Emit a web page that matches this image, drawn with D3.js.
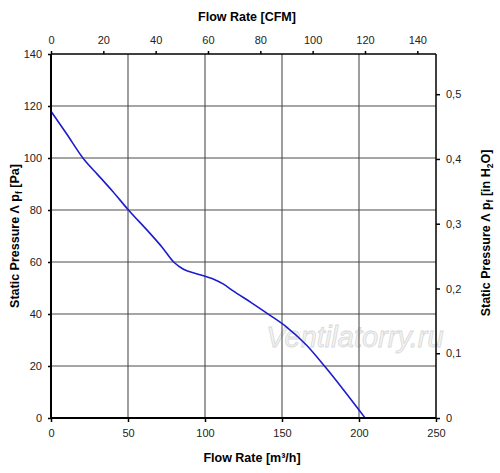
<!DOCTYPE html>
<html><head><meta charset="utf-8">
<script src="https://cdn.jsdelivr.net/npm/d3@7"></script>
<style>body{margin:0;background:#fff}svg{display:block}text{font-family:Arial,"Liberation Sans",sans-serif}</style>
</head><body><svg id="c" width="500" height="473"></svg>
<script>
const flowM3h = [0, 10, 22, 30, 40, 50, 64, 72, 80, 86, 95, 100, 106, 112, 118, 130, 142, 153, 166, 178, 190, 204];
const pressurePa = [118, 109.4, 99, 93.8, 87.2, 80.2, 71.2, 65.8, 59.8, 57.2, 55.4, 54.5, 53.3, 51.5, 49.0, 44.4, 39.6, 35, 28, 19.7, 10.8, 0];
const bottomTicks = [0, 50, 100, 150, 200, 250];
const leftTicks = [0, 20, 40, 60, 80, 100, 120, 140];
const topTicks = [0, 20, 40, 60, 80, 100, 120, 140];
const rightTicks = [0, 0.1, 0.2, 0.3, 0.4, 0.5];
const M3H_PER_CFM = 1.699, PA_PER_INH2O = 249.09;

const svg = d3.select("#c");
const L = 51, R = 436, T = 54, B = 418;
const x = d3.scaleLinear([0, 250], [L, R]);
const y = d3.scaleLinear([0, 140], [B, T]);
const xTop = d3.scaleLinear([0, 250 / M3H_PER_CFM], [L, R]);
const yR = d3.scaleLinear([0, 140 / PA_PER_INH2O], [B, T]);

// watermark
svg.append("text").attr("x", 355).attr("y", 347).attr("text-anchor", "middle")
  .attr("font-size", 29).attr("font-style", "italic").attr("fill", "#f4f4f4")
  .attr("stroke", "#d8d8d8").attr("stroke-width", 0.8).text("Ventilatorry.ru");

// grid
const g = svg.append("g");
g.selectAll("line.v").data(bottomTicks.slice(1, -1)).join("line")
  .attr("x1", d => x(d)).attr("x2", d => x(d)).attr("y1", T).attr("y2", B)
  .attr("stroke", "#4d4d4d").attr("stroke-width", 1.1);
g.selectAll("line.h").data(leftTicks.slice(1, -1)).join("line")
  .attr("y1", d => y(d)).attr("y2", d => y(d)).attr("x1", L).attr("x2", R)
  .attr("stroke", "#4d4d4d").attr("stroke-width", 1.1);

// curve
svg.append("path").datum(flowM3h.map((f, i) => [f, pressurePa[i]]))
  .attr("d", d3.line().x(d => x(d[0])).y(d => y(d[1])).curve(d3.curveMonotoneX))
  .attr("fill", "none").attr("stroke", "#1c1ccf").attr("stroke-width", 1.6);

function styleAxis(sel) {
  sel.select(".domain").remove();
  sel.selectAll(".tick line").attr("stroke", "#000").attr("stroke-width", 1.5);
  sel.selectAll(".tick text").attr("fill", "#222").attr("font-size", 11)
    .attr("font-family", "Arial, 'Liberation Sans', sans-serif");
}
svg.append("g").attr("transform", `translate(0,${B})`)
  .call(d3.axisBottom(x).tickValues(bottomTicks).tickSize(4).tickPadding(7)).call(styleAxis);
svg.append("g").attr("transform", `translate(${L},0)`)
  .call(d3.axisLeft(y).tickValues(leftTicks).tickSize(3).tickPadding(6)).call(styleAxis);
svg.append("g").attr("transform", `translate(0,${T})`)
  .call(d3.axisTop(xTop).tickValues(topTicks).tickSize(3).tickPadding(7)).call(styleAxis);
svg.append("g").attr("transform", `translate(${R},0)`)
  .call(d3.axisRight(yR).tickValues(rightTicks).tickSize(4).tickPadding(6)
    .tickFormat(d => d === 0 ? "0" : d.toFixed(1).replace(".", ","))).call(styleAxis);

// frame
svg.append("line").attr("x1", L).attr("x2", L).attr("y1", T).attr("y2", B).attr("stroke", "#000").attr("stroke-width", 2);
svg.append("line").attr("x1", L).attr("x2", R).attr("y1", B).attr("y2", B).attr("stroke", "#000").attr("stroke-width", 2);
svg.append("line").attr("x1", L).attr("x2", R).attr("y1", T).attr("y2", T).attr("stroke", "#000").attr("stroke-width", 1.5);
svg.append("line").attr("x1", R).attr("x2", R).attr("y1", T).attr("y2", B).attr("stroke", "#000").attr("stroke-width", 1.5);

// titles
svg.append("text").attr("x", 247).attr("y", 21).attr("text-anchor", "middle")
  .attr("font-size", 12.5).attr("font-weight", "bold").text("Flow Rate [CFM]");
const bt = svg.append("text").attr("x", 252).attr("y", 462).attr("text-anchor", "middle")
  .attr("font-size", 12.5).attr("font-weight", "bold");
bt.append("tspan").text("Flow Rate [m³/h]");

const lt = svg.append("text").attr("transform", "translate(19,236) rotate(-90)").attr("text-anchor", "middle")
  .attr("font-size", 12.5).attr("font-weight", "bold");
lt.append("tspan").text("Static Pressure Λ p");
lt.append("tspan").attr("font-size", 8.5).attr("dy", 3).text("f");
lt.append("tspan").attr("dy", -3).text(" [Pa]");

const rt = svg.append("text").attr("transform", "translate(490,233) rotate(-90)").attr("text-anchor", "middle")
  .attr("font-size", 12.5).attr("font-weight", "bold");
rt.append("tspan").text("Static Pressure Λ p");
rt.append("tspan").attr("font-size", 8.5).attr("dy", 3).text("f");
rt.append("tspan").attr("dy", -3).text(" [in H");
rt.append("tspan").attr("font-size", 8.5).attr("dy", 3).text("2");
rt.append("tspan").attr("dy", -3).text("O]");
</script></body></html>
